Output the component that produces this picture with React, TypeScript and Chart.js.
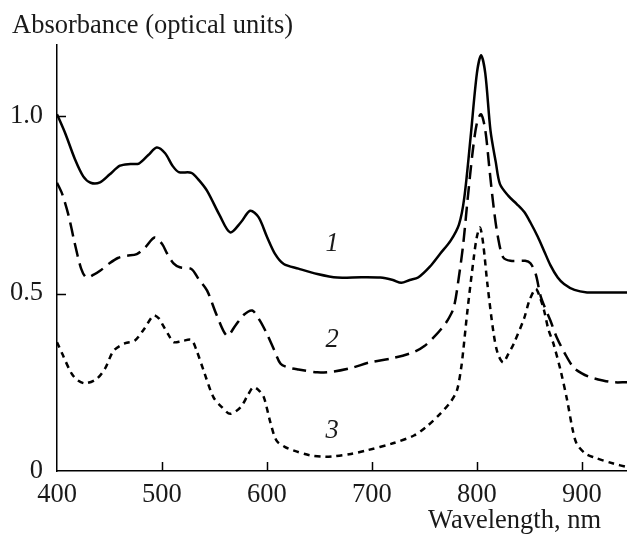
import React, { useEffect, useRef } from "react";
import { Chart, registerables } from "chart.js";

Chart.register(...registerables);

// Curve 1 (solid)
const wl1 = [400, 408, 417, 425, 432, 441, 450, 460, 470, 478, 487, 495, 503, 510, 516, 528, 535, 543, 555, 565, 575, 584, 592, 600, 608, 616, 630, 648, 667, 690, 708, 720, 728, 736, 744, 755, 765, 775, 783, 788, 794, 800, 804, 808, 813, 818, 822, 830, 838, 845, 851, 858, 864, 870, 877, 883, 893, 905, 920, 943];
const ab1 = [1.005, 0.95, 0.879, 0.83, 0.812, 0.813, 0.835, 0.86, 0.865, 0.866, 0.89, 0.911, 0.895, 0.86, 0.842, 0.84, 0.82, 0.789, 0.72, 0.672, 0.7, 0.733, 0.715, 0.66, 0.61, 0.583, 0.57, 0.555, 0.545, 0.546, 0.545, 0.538, 0.53, 0.538, 0.545, 0.575, 0.612, 0.649, 0.695, 0.77, 0.94, 1.12, 1.171, 1.12, 0.958, 0.87, 0.808, 0.775, 0.752, 0.73, 0.7, 0.66, 0.62, 0.58, 0.545, 0.527, 0.51, 0.503, 0.503, 0.503];

// Curve 2 (long dashes)
const wl2 = [400, 405, 411, 417, 423, 428, 435, 441, 450, 458, 466, 476, 484, 493, 500, 505, 511, 517, 528, 535, 543, 552, 562, 570, 578, 586, 593, 600, 607, 613, 620, 630, 648, 663, 680, 698, 720, 740, 750, 759, 766, 772, 778, 783, 787, 791, 796, 800, 804, 808, 812, 816, 820, 825, 832, 846, 851, 856, 861, 870, 876, 884, 892, 900, 908, 920, 930, 943];
const ab2 = [0.812, 0.78, 0.72, 0.64, 0.57, 0.545, 0.553, 0.564, 0.585, 0.6, 0.606, 0.611, 0.63, 0.658, 0.64, 0.612, 0.585, 0.574, 0.569, 0.54, 0.508, 0.44, 0.381, 0.41, 0.44, 0.452, 0.425, 0.386, 0.34, 0.302, 0.292, 0.286, 0.278, 0.28, 0.29, 0.306, 0.318, 0.335, 0.352, 0.377, 0.4, 0.424, 0.461, 0.55, 0.64, 0.76, 0.9, 0.98, 1.005, 0.96, 0.85, 0.742, 0.66, 0.602, 0.592, 0.592, 0.585, 0.555, 0.49, 0.424, 0.377, 0.33, 0.292, 0.275, 0.264, 0.255, 0.25, 0.25];

// Curve 3 (short dashes)
const wl3 = [400, 405, 414, 420, 427, 438, 446, 454, 465, 474, 483, 492, 497, 501, 506, 511, 519, 528, 533, 540, 549, 557, 565, 575, 582, 587, 592, 597, 603, 609, 617, 625, 641, 655, 663, 680, 695, 720, 740, 752, 765, 775, 781, 785, 787, 791, 797, 800, 803, 806, 810, 816, 820, 825, 830, 835, 845, 850, 856, 860, 864, 868, 873, 880, 886, 891, 895, 903, 911, 930, 943];
const ab3 = [0.363, 0.33, 0.274, 0.255, 0.247, 0.26, 0.29, 0.339, 0.36, 0.367, 0.4, 0.438, 0.43, 0.41, 0.385, 0.363, 0.366, 0.369, 0.339, 0.28, 0.208, 0.18, 0.161, 0.18, 0.215, 0.236, 0.228, 0.208, 0.14, 0.086, 0.068, 0.058, 0.044, 0.04, 0.041, 0.048, 0.058, 0.078, 0.1, 0.125, 0.161, 0.195, 0.227, 0.29, 0.339, 0.452, 0.6, 0.66, 0.686, 0.64, 0.527, 0.386, 0.33, 0.306, 0.33, 0.358, 0.43, 0.48, 0.513, 0.49, 0.452, 0.4, 0.358, 0.28, 0.199, 0.12, 0.077, 0.05, 0.039, 0.021, 0.011];

const xTicks = [400, 500, 600, 700, 800, 900];
const yTicks = [0, 0.5, 1.0];
const yTickLabels = ["0", "0.5", "1.0"];
const curveLabels = ["1", "2", "3"];
const curveLabelX = [662, 662, 662];
const curveLabelY = [0.64, 0.37, 0.112];

const FONT = '"Liberation Serif", "Times New Roman", serif';
const INK = "#1a1a1a";
const FS = 26.5;

const toPts = (xs: number[], ys: number[]) => xs.map((x, i) => ({ x, y: ys[i] }));

const overlay = {
  id: "overlay",
  afterDraw(chart: any) {
    const { ctx, chartArea } = chart;
    const xs = chart.scales.x;
    const ys = chart.scales.y;
    ctx.save();
    ctx.strokeStyle = "#000";
    ctx.lineWidth = 1.5;
    ctx.beginPath();
    xTicks.forEach((v) => {
      if (v === xs.min) return;
      const px = Math.round(xs.getPixelForValue(v)) + 0.5;
      ctx.moveTo(px, chartArea.bottom);
      ctx.lineTo(px, chartArea.bottom - 9);
    });
    yTicks.forEach((v) => {
      if (v === ys.min) return;
      const py = Math.round(ys.getPixelForValue(v)) + 0.5;
      ctx.moveTo(chartArea.left, py);
      ctx.lineTo(chartArea.left + 9, py);
    });
    ctx.stroke();

    ctx.fillStyle = INK;
    ctx.font = `${FS}px ${FONT}`;
    ctx.textBaseline = "alphabetic";
    ctx.textAlign = "left";
    ctx.fillText("Absorbance (optical units)", 12, 33);
    ctx.textAlign = "right";
    ctx.fillText("Wavelength, nm", 601, 528);

    ctx.font = `italic ${FS}px ${FONT}`;
    ctx.textAlign = "center";
    ctx.textBaseline = "middle";
    curveLabels.forEach((t, i) => {
      ctx.fillText(t, xs.getPixelForValue(curveLabelX[i]), ys.getPixelForValue(curveLabelY[i]));
    });
    ctx.restore();
  },
};

export default function App() {
  const ref = useRef<HTMLCanvasElement>(null);
  useEffect(() => {
    if (!ref.current) return;
    const common = {
      borderColor: "#000",
      borderWidth: 2.5,
      pointRadius: 0,
      fill: false,
      tension: 0.3,
    };
    const chart = new Chart(ref.current, {
      type: "line",
      data: {
        datasets: [
          { ...common, label: "1", data: toPts(wl1, ab1) },
          { ...common, label: "2", data: toPts(wl2, ab2), borderDash: [14, 7] },
          { ...common, label: "3", data: toPts(wl3, ab3), borderDash: [6, 5] },
        ],
      },
      options: {
        responsive: false,
        animation: false,
        events: [],
        layout: { padding: { top: 45, right: 0, left: 0, bottom: 0 } },
        plugins: { legend: { display: false }, tooltip: { enabled: false } },
        scales: {
          x: {
            type: "linear",
            min: 400,
            max: 943,
            afterFit: (s: any) => {
              s.height = 65;
            },
            afterBuildTicks: (s: any) => {
              s.ticks = xTicks.map((v) => ({ value: v }));
            },
            ticks: {
              font: { family: FONT, size: FS },
              color: INK,
              padding: 8,
              maxRotation: 0,
              autoSkip: false,
              callback: (v: any) => String(v),
            },
            grid: { display: true, drawOnChartArea: false, drawTicks: false },
            border: { display: true, color: "#000", width: 1.5 },
          },
          y: {
            type: "linear",
            min: 0,
            max: 1.2,
            afterFit: (s: any) => {
              s.width = 57;
            },
            afterBuildTicks: (s: any) => {
              s.ticks = yTicks.map((v) => ({ value: v }));
            },
            ticks: {
              font: { family: FONT, size: FS },
              color: INK,
              padding: 14,
              autoSkip: false,
              callback: (v: any) => {
                const i = yTicks.indexOf(Number(v));
                return i >= 0 ? yTickLabels[i] : "";
              },
            },
            grid: { display: true, drawOnChartArea: false, drawTicks: false },
            border: { display: true, color: "#000", width: 1.5 },
          },
        },
      },
      plugins: [overlay],
    });
    return () => chart.destroy();
  }, []);
  return (
    <div style={{ position: "absolute", left: 0, top: 0, width: 627, height: 536, background: "#fff" }}>
      <canvas ref={ref} width={627} height={536} style={{ display: "block" }} />
    </div>
  );
}
